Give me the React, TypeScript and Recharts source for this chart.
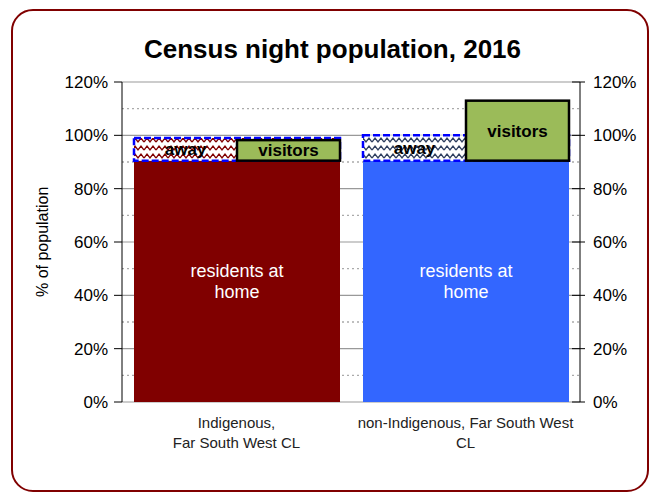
import { BarChart, Bar, XAxis, YAxis, CartesianGrid, LabelList } from "recharts";

const categories = ["Indigenous,\nFar South West CL", "non-Indigenous, Far South West\nCL"];
const residents = [90.5, 90.5];
const away = [8.5, 9.5];
const visitors = [7.7, 22.5];
const residentColors = ["#800000", "#3366FF"];
const awayPatterns = ["url(#awayRed)", "url(#awayBlue)"];
const majorTicks = [0, 20, 40, 60, 80, 100, 120];
const gridTicks = [0, 10, 20, 30, 40, 50, 60, 70, 80, 90, 100, 110, 120];

const data = categories.map((name, i) => ({
  name,
  idx: i,
  residents: residents[i],
  away: away[i],
  visitorsRange: [residents[i], residents[i] + visitors[i]],
}));

const FONT = "'Liberation Sans', Arial, Helvetica, sans-serif";

const pct = (v: number) => `${v}%`;

const CategoryTick = (props: any) => {
  const { x, y, payload } = props;
  const lines = String(payload.value).split("\n");
  return (
    <g>
      {lines.map((l: string, i: number) => (
        <text key={i} x={x} y={y + 18 + i * 20} textAnchor="middle" fontSize={15} fill="#222" fontFamily={FONT}>
          {l}
        </text>
      ))}
    </g>
  );
};

// right axis carries every 10% for the grid, but only labels / marks the 20% steps
const RightTick = (props: any) => {
  const { x, y, payload } = props;
  if (payload.value % 20 !== 0) return <g />;
  return (
    <g>
      <line x1={x - 8} y1={y} x2={x + 5} y2={y} stroke="#000" />
      <text x={x + 13} y={y + 6} textAnchor="start" fontSize={17} fill="#000" fontFamily={FONT}>
        {pct(payload.value)}
      </text>
    </g>
  );
};

const GridLine = (props: any) => {
  const { x1, y1, x2, y2, index } = props;
  const minor = index % 2 === 1;
  return (
    <line x1={x1} y1={y1} x2={x2} y2={y2} stroke={minor ? "#aaa" : "#999"}
      strokeWidth={minor ? 1.3 : 1.2} strokeDasharray={minor ? "2 3" : undefined} />
  );
};

const ResidentsShape = (props: any) => {
  const { x, y, width, height, payload } = props;
  return <rect x={x} y={y} width={width} height={height} fill={residentColors[payload.idx]} />;
};

const AwayShape = (props: any) => {
  const { x, y, width, height, payload } = props;
  return (
    <rect x={x} y={y} width={width} height={height} fill={awayPatterns[payload.idx]}
      stroke="#0000FF" strokeWidth={2.5} strokeDasharray="7 3" />
  );
};

const VisitorsShape = (props: any) => {
  const { x, y, width, height } = props;
  return (
    <rect x={x + width / 2} y={y} width={width / 2} height={height}
      fill="#9BBB59" stroke="#000" strokeWidth={2.5} />
  );
};

const ResidentsLabel = (props: any) => {
  const { x, y, width, height } = props;
  const cx = x + width / 2;
  const cy = y + height / 2;
  return (
    <g>
      <text x={cx} y={cy - 4} textAnchor="middle" fontSize={18} fill="#fff" fontFamily={FONT}>residents at</text>
      <text x={cx} y={cy + 17} textAnchor="middle" fontSize={18} fill="#fff" fontFamily={FONT}>home</text>
    </g>
  );
};

const AwayLabel = (props: any) => {
  const { x, y, width, height } = props;
  return (
    <text x={x + width * 0.25} y={y + height / 2 + 6} textAnchor="middle" fontSize={17}
      fontWeight="bold" fill="#000" fontFamily={FONT}>away</text>
  );
};

const VisitorsLabel = (props: any) => {
  const { x, y, width, height } = props;
  return (
    <text x={x + width * 0.75} y={y + height / 2 + 6} textAnchor="middle" fontSize={17}
      fontWeight="bold" fill="#000" fontFamily={FONT}>visitors</text>
  );
};

export default function App() {
  return (
    <div style={{ position: "absolute", left: 0, top: 0, width: 655, height: 497, background: "#fff" }}>
      <div style={{
        position: "absolute", left: 11, top: 9, width: 634, height: 479,
        border: "2px solid #800000", borderRadius: 22,
      }} />
      <div style={{
        position: "absolute", left: 0, top: 34, width: 665, textAlign: "center",
        fontFamily: FONT, fontWeight: "bold", fontSize: 26, color: "#000",
      }}>
        Census night population, 2016
      </div>
      <div style={{ position: "absolute", left: 0, top: 0 }}>
        <BarChart width={655} height={497} data={data}
          margin={{ top: 82, right: 15, bottom: 35, left: 62 }}>
          <defs>
            <pattern id="awayRed" width="12" height="8" patternUnits="userSpaceOnUse">
              <rect width="12" height="8" fill="#fff" />
              <path d="M0 6 L3 2 L6 6 L9 2 L12 6" fill="none" stroke="#800000" strokeWidth={1.3} />
            </pattern>
            <pattern id="awayBlue" width="12" height="8" patternUnits="userSpaceOnUse">
              <rect width="12" height="8" fill="#fff" />
              <path d="M0 6 L3 2 L6 6 L9 2 L12 6" fill="none" stroke="#2F3F5F" strokeWidth={1.3} />
            </pattern>
          </defs>
          <CartesianGrid yAxisId="right" vertical={false} horizontal={GridLine} />
          <XAxis dataKey="name" xAxisId={0} tick={<CategoryTick />} tickLine={false} axisLine={false}
            interval={0} height={60} />
          <XAxis dataKey="name" xAxisId="vis" hide />
          <XAxis xAxisId="frame" type="number" domain={[0, 2]} ticks={[0, 1, 2]} allowDataOverflow
            tick={false} axisLine={{ stroke: "#000" }} tickLine={{ stroke: "#000" }} tickSize={6} height={0} />
          <YAxis yAxisId="left" domain={[0, 120]} ticks={majorTicks} tickFormatter={pct} width={60}
            tick={{ fontSize: 17, fill: "#000", fontFamily: FONT }} axisLine={{ stroke: "#000" }}
            tickLine={{ stroke: "#000" }} tickSize={8} tickMargin={6}
            label={{ value: "% of population", angle: -90, position: "insideLeft", offset: -20, dy: 55,
              style: { fontSize: 16, fill: "#000", fontFamily: FONT } }} />
          <YAxis yAxisId="right" orientation="right" domain={[0, 120]} ticks={gridTicks} allowDataOverflow
            width={60} tick={<RightTick />} interval={0} axisLine={{ stroke: "#000" }} tickLine={false}
            tickSize={0} tickMargin={0} />
          <Bar dataKey="residents" stackId="a" yAxisId="left" xAxisId={0} barSize={206}
            shape={<ResidentsShape />} isAnimationActive={false}>
            <LabelList dataKey="residents" content={<ResidentsLabel />} />
          </Bar>
          <Bar dataKey="away" stackId="a" yAxisId="left" xAxisId={0} barSize={206}
            shape={<AwayShape />} isAnimationActive={false}>
            <LabelList dataKey="away" content={<AwayLabel />} />
          </Bar>
          <Bar dataKey="visitorsRange" yAxisId="left" xAxisId="vis" barSize={206}
            shape={<VisitorsShape />} isAnimationActive={false}>
            <LabelList dataKey="visitorsRange" content={<VisitorsLabel />} />
          </Bar>
        </BarChart>
      </div>
    </div>
  );
}
